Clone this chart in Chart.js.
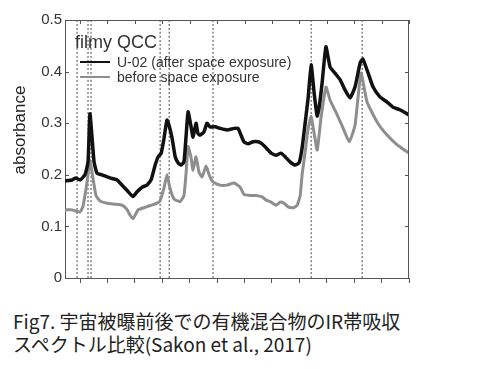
<!DOCTYPE html>
<html lang="ja">
<head>
<meta charset="UTF-8">
<title>IR absorbance before / after space exposure</title>
<script src="https://cdn.jsdelivr.net/npm/chart.js"></script>
<style>
  body { margin: 0; background: #fff; }
  #wrap { position: relative; width: 494px; height: 290px; }
  #caption {
    position: absolute; left: 13px; top: 309px;
    font-family: "Noto Sans CJK JP", sans-serif; font-size: 19px;
    line-height: 23px; color: #222;
  }
</style>
</head>
<body>
<div id="wrap"><canvas id="irChart"></canvas></div>
<div id="caption">Fig7. 宇宙被曝前後での有機混合物のIR帯吸収<br>スペクトル比較(Sakon et al., 2017)</div>

<script>
// x axis has no labels in the figure, so an arbitrary 0..120 scale is used
const xTicks = [0, 10, 20, 30, 40, 50, 60, 70, 80, 90, 100, 110, 120];
const yTicks = [0, 0.1, 0.2, 0.3, 0.4, 0.5];
const seriesLabels = ['U-02 (after space exposure)', 'before space exposure'];
const legendTitle = 'filmy QCC';
const yTitle = 'absorbance';

// U-02, after space exposure (black)
const afterX = [-5.5, -2.9, -1.5, 0, 1.8, 2.9, 3.6, 4.4, 5.1, 6.2, 8.0, 10.9, 13.5, 15.3, 17.1, 19.3, 20.8, 22.6,
  24.4, 25.9, 27.4, 28.5, 29.6, 30.6, 31.7, 32.5, 33.6, 34.7, 35.8, 36.8, 37.9, 38.7, 39.4, 40.5, 41.2, 42.3,
  43.0, 43.8, 45.2, 46.3, 47.4, 49.3, 51.1, 53.6, 56.2, 57.6, 58.7, 59.8, 61.3, 63.1, 64.9, 66.4, 67.9, 69.7,
  71.5, 73.3, 74.8, 76.6, 78.4, 79.9, 81.0, 82.1, 83.2, 84.3, 85.4, 86.5, 87.2, 88.3, 89.7, 91.2, 93.0, 94.9,
  96.7, 98.5, 100.3, 102.2, 103.2, 105.1, 106.9, 109.4, 112.0, 114.2, 116.7, 120.0];
const afterY = [0.188, 0.19, 0.194, 0.19, 0.2, 0.225, 0.318, 0.27, 0.225, 0.203, 0.2, 0.194, 0.19, 0.18, 0.17, 0.158, 0.167, 0.176,
  0.18, 0.19, 0.219, 0.235, 0.242, 0.27, 0.306, 0.295, 0.27, 0.235, 0.223, 0.219, 0.225, 0.277, 0.322, 0.293, 0.273, 0.30,
  0.28, 0.277, 0.283, 0.30, 0.293, 0.293, 0.29, 0.287, 0.29, 0.29, 0.277, 0.264, 0.26, 0.264, 0.264, 0.26, 0.252, 0.242,
  0.238, 0.242, 0.235, 0.225, 0.219, 0.223, 0.252, 0.30, 0.349, 0.413, 0.358, 0.314, 0.33, 0.378, 0.448, 0.409, 0.397, 0.384,
  0.364, 0.349, 0.37, 0.417, 0.424, 0.397, 0.37, 0.351, 0.341, 0.331, 0.326, 0.316];

// before space exposure (grey)
const beforeX = [-5.5, -2.9, 0, 1.1, 2.2, 2.9, 3.6, 4.7, 5.8, 7.3, 9.9, 12.8, 15.3, 17.1, 18.2, 19.3, 21.2, 23.7,
  25.9, 28.1, 29.2, 30.6, 31.7, 32.8, 34.3, 36.5, 37.9, 38.7, 39.4, 40.5, 41.2, 42.3, 43.4, 44.5, 46.0, 47.1,
  48.5, 51.1, 53.6, 56.2, 58.4, 59.8, 62.0, 64.2, 66.4, 67.9, 69.7, 71.5, 73.0, 74.4, 75.9, 77.7, 79.2, 80.3,
  81.0, 82.1, 83.2, 84.3, 85.4, 86.5, 87.9, 89.7, 91.2, 93.8, 96.0, 98.2, 100.3, 102.5, 104.7, 108.4, 112.0, 115.7, 120.0];
const beforeY = [0.132, 0.132, 0.128, 0.14, 0.174, 0.2, 0.228, 0.194, 0.16, 0.149, 0.145, 0.143, 0.141, 0.133, 0.122, 0.115, 0.132, 0.137,
  0.141, 0.145, 0.15, 0.174, 0.2, 0.174, 0.153, 0.148, 0.16, 0.205, 0.255, 0.233, 0.209, 0.235, 0.205, 0.196, 0.217, 0.2,
  0.186, 0.18, 0.18, 0.184, 0.176, 0.162, 0.16, 0.16, 0.157, 0.151, 0.147, 0.141, 0.147, 0.145, 0.138, 0.136, 0.141, 0.16,
  0.2, 0.244, 0.29, 0.313, 0.28, 0.248, 0.31, 0.37, 0.345, 0.316, 0.29, 0.264, 0.296, 0.397, 0.341, 0.302, 0.277, 0.258, 0.242];

// dotted vertical reference lines
const markerX = [-1.1, 2.9, 4.0, 29.2, 32.5, 48.5, 84.3, 102.9];

const toPoints = (xs, ys) => xs.map((x, i) => ({ x: x, y: ys[i] }));

const datasets = [
  { label: seriesLabels[0], data: toPoints(afterX, afterY), borderColor: '#111111', borderWidth: 3.5, order: 0 },
  { label: seriesLabels[1], data: toPoints(beforeX, beforeY), borderColor: '#8e8e8e', borderWidth: 3, order: 1 }
];
markerX.forEach(x => {
  datasets.push({
    label: '', marker: true,
    data: [{ x: x, y: yTicks[0] }, { x: x, y: yTicks[yTicks.length - 1] }],
    borderColor: '#444', borderWidth: 1, borderDash: [2, 2], order: 2
  });
});

// frame, inward ticks, y title and the in-plot legend
const decorations = {
  id: 'decorations',
  afterDraw(chart) {
    const { ctx, chartArea: a, scales: { x, y } } = chart;
    ctx.save();
    ctx.strokeStyle = '#555';
    ctx.lineWidth = 1;
    ctx.beginPath();
    ctx.moveTo(a.left, a.top + 0.5); ctx.lineTo(a.right, a.top + 0.5);
    ctx.moveTo(a.right - 0.5, a.top); ctx.lineTo(a.right - 0.5, a.bottom);
    xTicks.forEach(v => {
      const px = Math.round(x.getPixelForValue(v)) + 0.5;
      ctx.moveTo(px, a.top); ctx.lineTo(px, a.top + 4);
    });
    yTicks.slice(1, -1).forEach(v => {
      const py = Math.round(y.getPixelForValue(v)) + 0.5;
      ctx.moveTo(a.left, py); ctx.lineTo(a.left + 4, py);
      ctx.moveTo(a.right, py); ctx.lineTo(a.right - 4, py);
    });
    ctx.stroke();

    // y axis title
    ctx.fillStyle = '#222';
    ctx.font = '17px "Liberation Sans"';
    ctx.textAlign = 'center';
    ctx.textBaseline = 'middle';
    ctx.translate(20, 130);
    ctx.rotate(-Math.PI / 2);
    ctx.fillText(yTitle, 0, 0);
    ctx.restore();

    // legend
    ctx.save();
    ctx.textAlign = 'left';
    ctx.textBaseline = 'alphabetic';
    ctx.fillStyle = '#333';
    ctx.font = '18px "Liberation Sans"';
    ctx.fillText(legendTitle, a.left + 10, a.top + 28);
    ctx.font = '14px "Liberation Sans"';
    [0, 1].forEach(i => {
      const ds = chart.data.datasets[i];
      const cy = a.top + 42 + i * 15;
      ctx.strokeStyle = ds.borderColor;
      ctx.lineWidth = 2;
      ctx.beginPath();
      ctx.moveTo(a.left + 15, cy); ctx.lineTo(a.left + 45, cy);
      ctx.stroke();
      ctx.fillText(ds.label, a.left + 52, cy + 5);
    });
    ctx.restore();
  }
};

Chart.defaults.font.family = '"Liberation Sans", Arial, sans-serif';

new Chart(document.getElementById('irChart'), {
  type: 'line',
  data: { datasets: datasets },
  options: {
    responsive: true,
    maintainAspectRatio: false,
    animation: false,
    layout: { padding: { top: 20, right: 85, bottom: 0, left: 0 } },
    elements: { point: { radius: 0 }, line: { tension: 0.15, fill: false } },
    plugins: { legend: { display: false }, tooltip: { enabled: false } },
    scales: {
      x: {
        type: 'linear',
        min: -5.5, max: 120,
        afterBuildTicks: s => { s.ticks = xTicks.map(v => ({ value: v })); },
        afterFit: s => { s.height = 12; },
        ticks: { display: false },
        grid: { drawOnChartArea: false, drawTicks: true, tickLength: 5, color: '#555' },
        border: { display: true, color: '#555' }
      },
      y: {
        min: yTicks[0], max: yTicks[yTicks.length - 1],
        afterBuildTicks: s => { s.ticks = yTicks.map(v => ({ value: v })); },
        afterFit: s => { s.width = 65; },
        ticks: { padding: 3, color: '#333', font: { size: 15 }, callback: v => String(v) },
        grid: { drawOnChartArea: false, drawTicks: false },
        border: { display: true, color: '#555' }
      }
    }
  },
  plugins: [decorations]
});
</script>
</body>
</html>
